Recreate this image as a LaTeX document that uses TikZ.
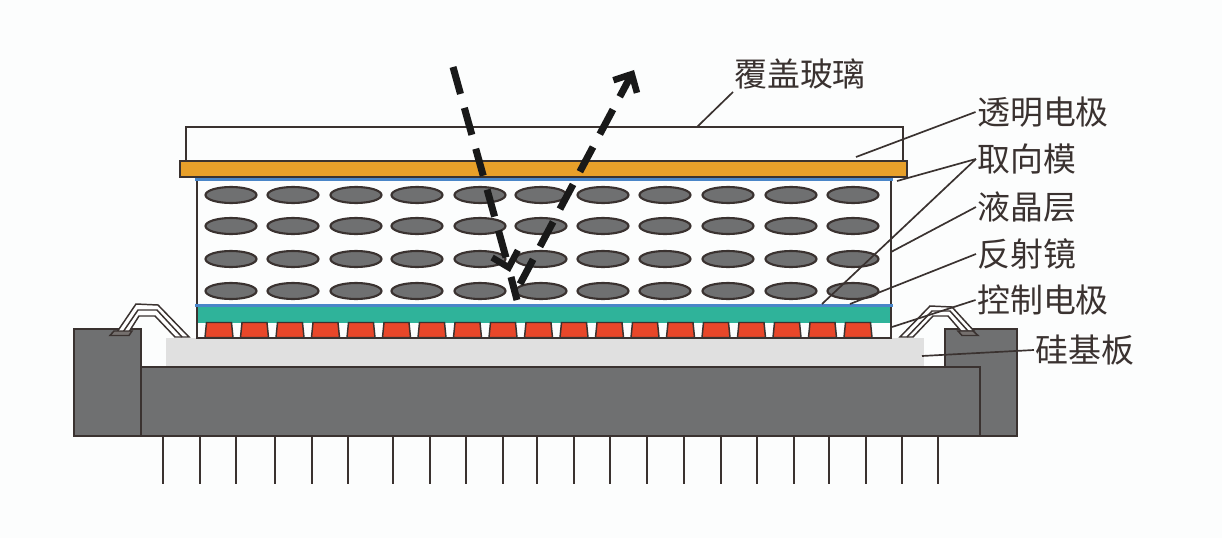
\documentclass[tikz,border=0pt]{standalone}
\usepackage{fontspec}
\usepackage{xcolor}
\usetikzlibrary{positioning, arrows.meta, calc}
\setmainfont{Noto Sans CJK SC}
\definecolor{linedark}{HTML}{3A3230}
\definecolor{bodygray}{HTML}{6F7071}
\definecolor{glueorange}{HTML}{E8A02A}
\definecolor{mirrorteal}{HTML}{2FB39A}
\definecolor{padred}{HTML}{E8472A}
\definecolor{filmblue}{HTML}{4A86C8}
\definecolor{wafergray}{HTML}{E0E0E0}
\definecolor{paper}{HTML}{FCFDFD}

\begin{document}
\begin{tikzpicture}[
  x=0.025cm, y=-0.025cm,
  part/.style={draw=linedark, line width=1.5pt},
  thinpart/.style={draw=linedark, line width=1.05pt},
  leader/.style={draw=linedark, line width=1.2pt},
  film/.style={draw=filmblue, line width=1.7pt},
  lbl/.style={font=\fontsize{23.4}{25}\selectfont, text=linedark, inner sep=1pt},
  ray/.style={draw=black!90, line width=5pt, dash pattern=on 28*0.71pt off 14.5*0.71pt},
  head/.style={-{Straight Barb[length=10pt, width=19pt, line width=4.6pt]}}
]
\path[fill=paper, use as bounding box] (0,0) rectangle (1222,538);

% Package body
\draw[part, fill=bodygray] (74,329) rectangle (141,436);
\draw[part, fill=bodygray] (945,367) -- (945,329) -- (1017,329) -- (1017,436) -- (980,436) -- (980,367) -- cycle;
\fill[wafergray] (166,338) rectangle (924,367);
\draw[part, fill=bodygray] (141,367) rectangle (980,436);

% Pins
\foreach \px in {163,200,236,275,312,348,393,430,466,503,537,574,610,647,684,721,757,794,829,866,902,938}
  \draw[part] (\px,436) -- (\px,484);

% Liquid crystal cell
\fill[mirrorteal] (197,306) rectangle (891,323);
\foreach \i in {0,...,18}
  \draw[thinpart, fill=padred] ({205+35.5*\i},337.5) -- ({206.5+35.5*\i},322.5) -- ({231.5+35.5*\i},322.5) -- ({233+35.5*\i},337.5) -- cycle;
\draw[part] (197,179) -- (197,338) -- (891,338) -- (891,179);
\foreach \ey in {195,226,259,291}
  \foreach \ex in {231,293,356,417,480,541,603,665,728,791,853}
    \draw[part, fill=bodygray] (\ex,\ey) ellipse [x radius=25.5, y radius=8];
\draw[film] (195,305.5) -- (893,305.5);
\draw[film] (195,179.5) -- (893,179.5);

% Glass and electrode
\draw[part] (186,161) -- (186,127) -- (903,127) -- (903,161);
\draw[part, fill=glueorange] (180,161) rectangle (907,177);

% Bond wires
\draw[thinpart, fill=white] (115,335) -- (136,304) -- (158,305) -- (189,337) -- (175,337) -- (155,316) -- (139,316) -- (127,335) -- cycle;
\draw[thinpart] (121,335) -- (138,310) -- (157,310) -- (182,337);
\draw[thinpart, fill=linedark!70] (110,335.5) -- (114,331) -- (132,331) -- (129,335.5) -- cycle;
\draw[thinpart, fill=white] (900,337) -- (930,306) -- (952,307) -- (974,331) -- (961,331) -- (948,316) -- (933,316) -- (913,337) -- cycle;
\draw[thinpart] (907,337) -- (932,311) -- (950,311) -- (968,331);
\draw[thinpart, fill=linedark!70] (958,331) -- (973,331) -- (978,335.5) -- (962,335.5) -- cycle;

% Light rays
\coordinate (inA) at (453,67);
\coordinate (inB) at (510,272);
\coordinate (foldA) at (511,277);
\coordinate (foldB) at (517,300);
\coordinate (outA) at (520,284);
\coordinate (outB) at (634,70);
\draw[ray, head] (inA) -- (inB);
\draw[draw=black!90, line width=5pt] (foldA) -- (foldB);
\draw[ray, head] (outA) -- (outB);

% Labels
\node[lbl] (cover) at (800,74) {覆盖玻璃};
\node[lbl] (itolbl) at (1043,112) {透明电极};
\node[lbl] (alignlbl) at (1027,159) {取向模};
\node[lbl] (lclbl) at (1027,207) {液晶层};
\node[lbl] (mirrorlbl) at (1027,254) {反射镜};
\node[lbl] (ctrllbl) at (1043,300) {控制电极};
\node[lbl] (silicon) at (1085,350) {硅基板};

% Leaders
\coordinate (coverEnd) at (697,127);
\coordinate (coverTip) at (733,92);
\coordinate (itoEnd) at (856,157);
\coordinate (alignEndA) at (897,181);
\coordinate (alignEndB) at (822,304);
\coordinate (lcEnd) at (891,252);
\coordinate (mirrorEnd) at (850,304);
\coordinate (ctrlEnd) at (892,327);
\coordinate (siliconEnd) at (922,356);
\draw[leader] (coverEnd) -- (coverTip);
\draw[leader] (itoEnd) -- (itolbl.west);
\draw[leader] (alignEndA) -- (alignlbl.west);
\draw[leader] (alignEndB) -- (alignlbl.west);
\draw[leader] (lcEnd) -- (lclbl.west);
\draw[leader] (mirrorEnd) -- (mirrorlbl.west);
\draw[leader] (ctrlEnd) -- (ctrllbl.west);
\draw[leader] (siliconEnd) -- (silicon.west);
\end{tikzpicture}
\end{document}
